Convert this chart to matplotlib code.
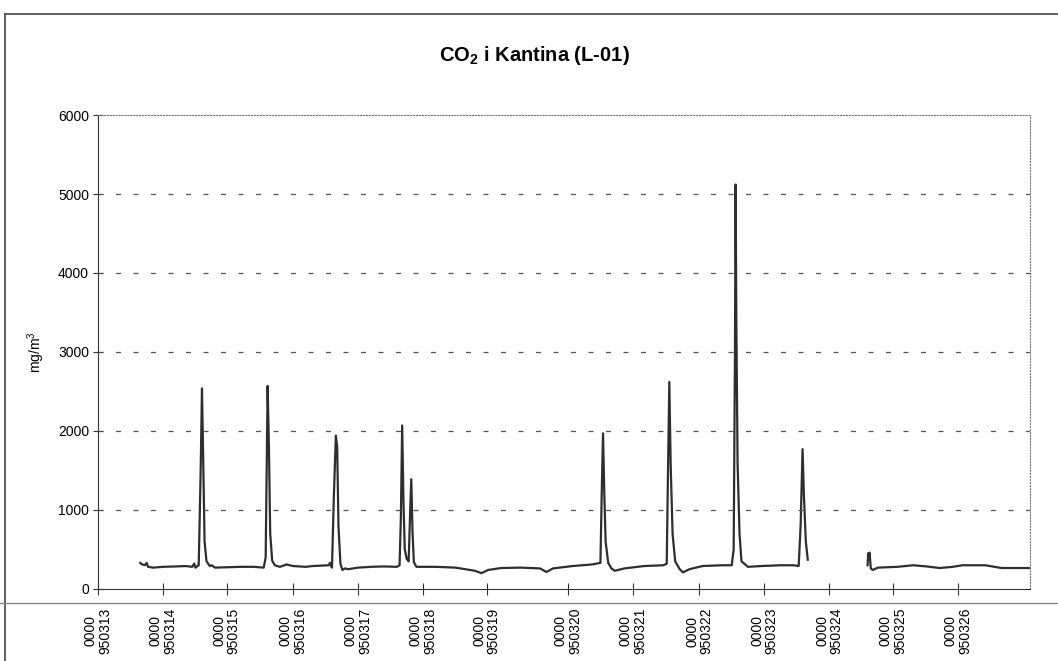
"""
plot.py
CO2 level in the canteen (L-01), one line per logger reading.
"""
import matplotlib.pyplot as plt
from matplotlib.lines import Line2D

# reading position on the time axis (one unit ~ one day) and CO2 in mg/m3
days_a = [0.65, 0.68, 0.72, 0.75, 0.77, 0.85, 1.0, 1.2, 1.35, 1.45, 1.48, 1.50,
          1.55, 1.58, 1.60, 1.62, 1.64, 1.67, 1.72, 1.75, 1.8, 2.0, 2.2, 2.4,
          2.55, 2.58, 2.61, 2.63, 2.65, 2.68, 2.72, 2.8, 2.9, 3.0, 3.2, 3.3,
          3.55, 3.57, 3.60, 3.63, 3.66, 3.68, 3.70, 3.73, 3.76, 3.8, 3.85, 4.0,
          4.2, 4.4, 4.6, 4.64, 4.66, 4.68, 4.70, 4.72, 4.75, 4.78, 4.80, 4.82,
          4.84, 4.86, 4.9, 5.2, 5.5, 5.8, 5.9, 6.0, 6.2, 6.5, 6.8, 6.9,
          7.0, 7.3, 7.6, 7.73, 7.75, 7.77, 7.79, 7.81, 7.85, 7.9, 7.95, 8.1,
          8.4, 8.7, 8.75, 8.77, 8.79, 8.81, 8.84, 8.88, 8.95, 9.0, 9.1, 9.3,
          9.6, 9.75, 9.78, 9.80, 9.81, 9.82, 9.84, 9.87, 9.9, 10.0, 10.2, 10.5,
          10.7, 10.78, 10.81, 10.84, 10.86, 10.89, 10.92]
co2_a = [330, 310, 300, 330, 280, 270, 280, 285, 290, 280, 320, 270,
         300, 1500, 2540, 1600, 600, 350, 290, 300, 270, 275, 280, 280,
         270, 400, 2570, 1800, 700, 360, 300, 280, 310, 290, 280, 290,
         300, 330, 270, 1200, 1940, 1800, 800, 320, 240, 260, 250, 270,
         280, 285, 280, 300, 900, 2070, 1100, 500, 380, 350, 900, 1390,
         700, 340, 280, 280, 270, 230, 200, 240, 265, 270, 260, 215,
         260, 290, 310, 330, 1200, 1970, 1200, 600, 330, 260, 230, 260,
         290, 300, 320, 1500, 2620, 1600, 700, 350, 250, 210, 250, 290,
         300, 300, 500, 3000, 5120, 3500, 1600, 700, 350, 280, 290, 300,
         300, 290, 800, 1770, 1200, 600, 370]

days_b = [11.84, 11.85, 11.86, 11.87, 11.89, 11.92, 12.0, 12.3, 12.54, 12.75,
          12.95, 13.15, 13.3, 13.65, 13.9, 14.1, 14.35]
co2_b = [300, 450, 380, 460, 260, 240, 270, 280, 300, 285,
         265, 280, 300, 300, 265, 265, 265]

# category ticks are not evenly spaced (fewer readings before 950320)
tick_pos = [0, 1.0, 1.98, 3.0, 4.0, 5.0, 5.98, 7.23, 8.23, 9.25, 10.25,
            11.25, 12.23, 13.23]
tick_labels = ["0000\n9503%d" % d for d in range(13, 27)]
y_ticks = [0, 1000, 2000, 3000, 4000, 5000, 6000]

plt.rcParams["font.family"] = ["Liberation Sans", "DejaVu Sans"]
plt.rcParams["mathtext.fontset"] = "custom"
plt.rcParams["mathtext.rm"] = "Liberation Sans"
plt.rcParams["mathtext.it"] = "Liberation Sans:italic"
plt.rcParams["mathtext.bf"] = "Liberation Sans:bold"

fig = plt.figure(figsize=(10.58, 6.61), dpi=100)
ax = fig.add_axes([0.0926, 0.109, 0.881, 0.717])

ax.plot(days_a, co2_a, color="#2e2e2e", linewidth=1.6)
ax.plot(days_b, co2_b, color="#2e2e2e", linewidth=1.6)

ax.set_xlim(0, 14.34)
ax.set_ylim(0, 6000)
ax.set_xticks(tick_pos)
ax.set_xticklabels(tick_labels, rotation=90, fontsize=10, linespacing=1.0)
ax.set_yticks(y_ticks)
ax.set_yticklabels([str(v) for v in y_ticks], fontsize=10)
ax.tick_params(axis="x", direction="inout", length=9, pad=9, color="#333333")
ax.tick_params(axis="y", direction="inout", length=7, pad=3, color="#333333")

for v in y_ticks[1:-1]:
    ax.axhline(v, color="#555555", linewidth=0.9, linestyle=(0, (4, 10)))

ax.spines["top"].set_linestyle(":")
ax.spines["top"].set_color("#777777")
ax.spines["right"].set_linestyle(":")
ax.spines["right"].set_color("#777777")
ax.spines["left"].set_color("#333333")
ax.spines["bottom"].set_color("#333333")

ax.set_ylabel("mg/m$^3$", fontsize=10, labelpad=8)
fig.text(0.505, 0.916, r"CO$_\mathbf{2}$ i Kantina (L-01)", ha="center",
         va="center", fontsize=14.5, fontweight="bold")

# chart frame lines
fig.add_artist(Line2D([0.005, 0.005], [0.0, 0.979], color="#444444", linewidth=1.2))
fig.add_artist(Line2D([0.005, 1.0], [0.979, 0.979], color="#444444", linewidth=1.2))
fig.add_artist(Line2D([0.0, 1.0], [0.088, 0.088], color="#888888", linewidth=1.0))

plt.savefig("out.png")
plt.close()
